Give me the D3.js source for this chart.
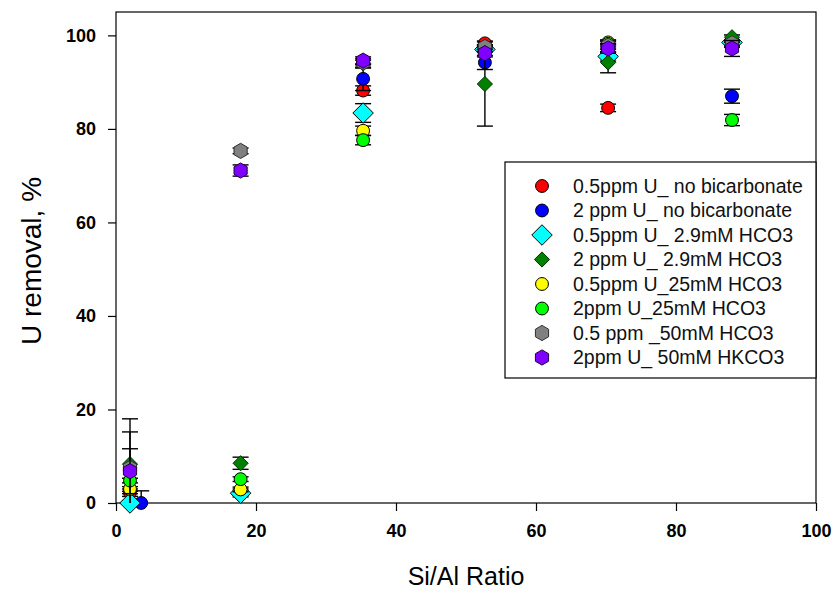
<!DOCTYPE html>
<html>
<head>
<meta charset="utf-8">
<script src="https://cdn.jsdelivr.net/npm/d3@7"></script>
<style>
    body { margin: 0; background: #fff; }
    text { font-family: Arial, "Liberation Sans", sans-serif; }
</style>
</head>
<body>
<svg id="SVG_CONTAINER" width="839" height="596"></svg>
<script>
let d3 = window.d3;

// Si/Al ratios of the zeolites
const siAl = [2, 17.8, 35.3, 52.7, 70.3, 88];
const siAlBlue = [3.6, 17.8, 35.3, 52.7, 70.3, 88];

const seriesNames = [
    "0.5ppm U_ no bicarbonate",
    "2 ppm U_ no bicarbonate",
    "0.5ppm U_ 2.9mM HCO3",
    "2 ppm U_ 2.9mM HCO3",
    "0.5ppm U_25mM HCO3",
    "2ppm U_25mM HCO3",
    "0.5 ppm _50mM HCO3",
    "2ppm U_ 50mM HKCO3"
];

// U removal, %
const red      = [2.2, 1.8, 88.2, 98.3, 84.5, 98.0];
const blue     = [0.0, 2.5, 90.7, 94.2, 98.0, 87.0];
const cyan     = [0.0, 2.1, 83.4, 97.0, 95.5, 98.5];
const dkgreen  = [8.3, 8.5, 94.0, 89.6, 94.2, 99.6];
const yellow   = [3.0, 2.9, 79.6, 97.5, 98.5, 98.0];
const green    = [4.8, 5.1, 77.6, 97.0, 98.2, 81.9];
const gray     = [7.5, 75.3, 94.2, 97.5, 97.8, 98.3];
const purple   = [6.8, 71.1, 94.6, 96.2, 97.2, 97.2];

// standard deviations
const redErr     = [0.8, 0.5, 1.0, 0.5, 0.8, 0.5];
const blueErr    = [2.6, 0.5, 2.5, 1.5, 1.0, 1.5];
const cyanErr    = [0.5, 0.5, 2.0, 0.5, 1.0, 0.5];
const dkgreenErr = [9.7, 1.3, 1.0, 9.0, 2.2, 0.5];
const yellowErr  = [0.5, 0.5, 1.0, 0.5, 0.5, 0.5];
const greenErr   = [0.5, 0.5, 1.0, 0.5, 0.5, 1.2];
const grayErr    = [7.7, 0.6, 0.5, 0.5, 0.5, 0.5];
const purpleErr  = [4.8, 1.2, 0.8, 0.8, 1.0, 1.7];

const xTicks = [0, 20, 40, 60, 80, 100];
const yTicks = [0, 20, 40, 60, 80, 100];

const MARGIN = {
    "LEFT": 116,
    "RIGHT": 23,
    "TOP": 12,
    "BOTTOM": 93,
};

const   width  = 839,
        height = 596;

// square turned 45 degrees
const symDiamond = {
    draw: function (ctx, size) {
        let h = Math.sqrt(size / 2);
        ctx.moveTo(0, -h);
        ctx.lineTo(h, 0);
        ctx.lineTo(0, h);
        ctx.lineTo(-h, 0);
        ctx.closePath();
    }
};

// pointy-top hexagon
const symHexagon = {
    draw: function (ctx, size) {
        let r = Math.sqrt(size / (1.5 * Math.sqrt(3)));
        for (let i = 0; i < 6; i++) {
            let a = Math.PI / 3 * i - Math.PI / 2;
            if (i === 0) ctx.moveTo(r * Math.cos(a), r * Math.sin(a));
            else ctx.lineTo(r * Math.cos(a), r * Math.sin(a));
        }
        ctx.closePath();
    }
};

const series = [
    { name: seriesNames[0], x: siAl, y: red,     err: redErr,     fill: "#ff0000", stroke: "#000", type: d3.symbolCircle, size: 130 },
    { name: seriesNames[1], x: siAlBlue, y: blue, err: blueErr,   fill: "#0000ff", stroke: "#000", type: d3.symbolCircle, size: 130 },
    { name: seriesNames[2], x: siAl, y: cyan,    err: cyanErr,    fill: "#00ffff", stroke: "#000", type: symDiamond,      size: 210 },
    { name: seriesNames[3], x: siAl, y: dkgreen, err: dkgreenErr, fill: "#008000", stroke: "#003000", type: symDiamond,   size: 115 },
    { name: seriesNames[4], x: siAl, y: yellow,  err: yellowErr,  fill: "#ffff00", stroke: "#000", type: d3.symbolCircle, size: 130 },
    { name: seriesNames[5], x: siAl, y: green,   err: greenErr,   fill: "#00ff00", stroke: "#000", type: d3.symbolCircle, size: 130 },
    { name: seriesNames[6], x: siAl, y: gray,    err: grayErr,    fill: "#808080", stroke: "#303030", type: symHexagon,   size: 150 },
    { name: seriesNames[7], x: siAl, y: purple,  err: purpleErr,  fill: "#8000ff", stroke: "#200040", type: symHexagon,   size: 150 }
];

window.onload = function () {
    setup();
};

let setup = function () {
    let svg = d3.select("#SVG_CONTAINER");

    let xScale = d3.scaleLinear()
        .domain([0, 100])
        .range([MARGIN.LEFT, width - MARGIN.RIGHT]);

    let yScale = d3.scaleLinear()
        .domain([0, 105])
        .range([height - MARGIN.BOTTOM, MARGIN.TOP]);

    svg.append("defs").append("clipPath")
        .attr("id", "plotClip")
        .append("rect")
            .attr("x", MARGIN.LEFT)
            .attr("y", MARGIN.TOP)
            .attr("width", width - MARGIN.LEFT - MARGIN.RIGHT)
            .attr("height", height - MARGIN.TOP - MARGIN.BOTTOM);

    //x axis
    let xAxis = svg.append("g")
        .attr("transform", "translate(0, " + (height - MARGIN.BOTTOM) + ")")
        .call(d3.axisBottom(xScale).tickValues(xTicks).tickSize(8).tickSizeOuter(0).tickPadding(13));

    //y axis
    let yAxis = svg.append("g")
        .attr("transform", "translate(" + MARGIN.LEFT + ", 0)")
        .call(d3.axisLeft(yScale).tickValues(yTicks).tickSize(8).tickSizeOuter(0).tickPadding(12));

    [xAxis, yAxis].forEach(function (ax) {
        ax.select(".domain").remove();
        ax.selectAll("line").attr("stroke", "#000").attr("stroke-width", 1.2);
        ax.selectAll("text")
            .style("font-size", "18px")
            .style("font-weight", "bold")
            .attr("fill", "#000");
    });

    // plot frame
    svg.append("rect")
        .attr("x", MARGIN.LEFT)
        .attr("y", MARGIN.TOP)
        .attr("width", width - MARGIN.LEFT - MARGIN.RIGHT)
        .attr("height", height - MARGIN.TOP - MARGIN.BOTTOM)
        .attr("fill", "none")
        .attr("stroke", "#000")
        .attr("stroke-width", 1.2);

    let plot = svg.append("g");

    series.forEach(function (s) {
        let pts = s.y.map(function (v, i) { return { x: s.x[i], y: v, e: s.err[i] }; });
        let g = plot.append("g");

        // error bars first (clipped to the frame), then the symbols
        let eb = g.append("g")
            .attr("clip-path", "url(#plotClip)")
            .selectAll(".err")
            .data(pts)
            .enter()
            .append("g")
            .attr("stroke", "#000")
            .attr("stroke-width", 1.4);
        eb.append("line")
            .attr("x1", d => xScale(d.x))
            .attr("x2", d => xScale(d.x))
            .attr("y1", d => yScale(d.y - d.e))
            .attr("y2", d => yScale(d.y + d.e));
        [-1, 1].forEach(function (sgn) {
            eb.append("line")
                .attr("x1", d => xScale(d.x) - 8)
                .attr("x2", d => xScale(d.x) + 8)
                .attr("y1", d => yScale(d.y + sgn * d.e))
                .attr("y2", d => yScale(d.y + sgn * d.e));
        });

        g.selectAll("path")
            .data(pts)
            .enter()
            .append("path")
                .attr("transform", d => "translate(" + xScale(d.x) + "," + yScale(d.y) + ")")
                .attr("d", d3.symbol().type(s.type).size(s.size))
                .attr("fill", s.fill)
                .attr("stroke", s.stroke)
                .attr("stroke-width", 1);
    });

    //legend
    let legend = svg.append("g");
    legend.append("rect")
        .attr("x", 505)
        .attr("y", 162)
        .attr("width", 311)
        .attr("height", 216)
        .attr("fill", "#fff")
        .attr("stroke", "#000")
        .attr("stroke-width", 1.2);

    series.forEach(function (s, i) {
        let ly = 186 + i * 24.5;
        legend.append("path")
            .attr("transform", "translate(542," + ly + ")")
            .attr("d", d3.symbol().type(s.type).size(s.size))
            .attr("fill", s.fill)
            .attr("stroke", s.stroke)
            .attr("stroke-width", 1);
        legend.append("text")
            .attr("x", 573)
            .attr("y", ly)
            .attr("dy", "0.35em")
            .text(s.name)
            .style("font-size", "19.5px")
            .attr("fill", "#111");
    });

    //x axis label
    svg.append("text")
        .attr("x", (MARGIN.LEFT + width - MARGIN.RIGHT) / 2)
        .attr("y", 585)
        .attr("text-anchor", "middle")
        .text("Si/Al Ratio")
        .style("font-size", "25px");

    //y axis label
    svg.append("text")
        .attr("transform", "translate(41, " + 261 + ")rotate(-90)")
        .attr("text-anchor", "middle")
        .text("U removal, %")
        .style("font-size", "28px");
};
</script>
</body>
</html>
